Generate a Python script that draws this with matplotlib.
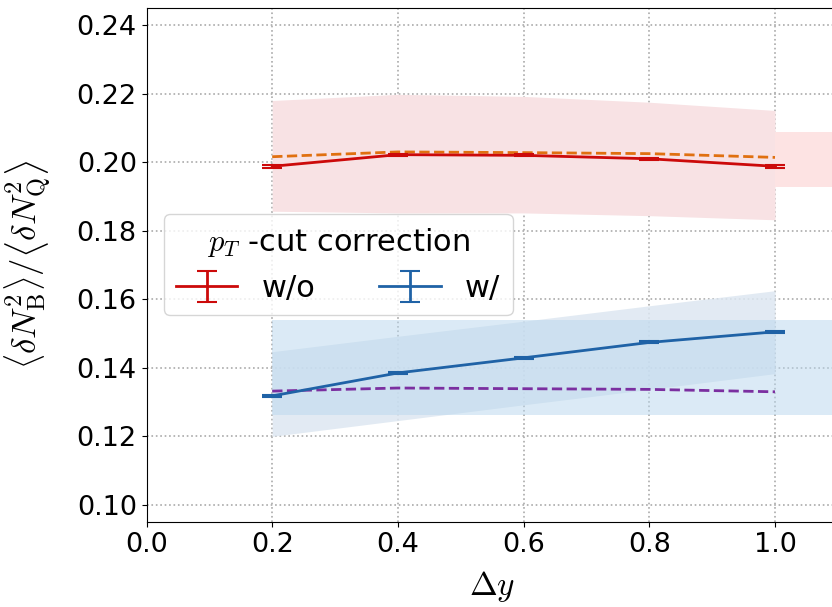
import matplotlib
matplotlib.use("Agg")
import matplotlib.pyplot as plt
import numpy as np

plt.rcParams['mathtext.fontset'] = 'cm'

# Data
dy = [0.2, 0.4, 0.6, 0.8, 1.0]
wo_vals = [0.1988, 0.2022, 0.2020, 0.2010, 0.1988]
wo_errs = [0.0004, 0.0003, 0.0003, 0.0003, 0.0004]
wo_ref = [0.2016, 0.2030, 0.2028, 0.2025, 0.2014]
wo_band_hi = [0.2180, 0.2198, 0.2192, 0.2175, 0.2151]
wo_band_lo = [0.1857, 0.1852, 0.1852, 0.1844, 0.1832]
wo_right_band = [0.1927, 0.2087]

w_vals = [0.1318, 0.1385, 0.1429, 0.1474, 0.1505]
w_errs = [0.0004, 0.0003, 0.0003, 0.0003, 0.0003]
w_ref = [0.1332, 0.1341, 0.1339, 0.1337, 0.1330]
w_band_hi = [0.1447, 0.1492, 0.1536, 0.1581, 0.1625]
w_band_lo = [0.1200, 0.1246, 0.1292, 0.1337, 0.1383]
w_rect_band = [0.1261, 0.1539]

xticks = [0.0, 0.2, 0.4, 0.6, 0.8, 1.0]
yticks = [0.10, 0.12, 0.14, 0.16, 0.18, 0.20, 0.22, 0.24]

fig = plt.figure(figsize=(8.32, 6.07), dpi=100)
ax = fig.add_axes([146.5/832, 1 - 522/607, (1.1*628.5)/832, (522-8)/607])

red = '#cc0a0a'
blue = '#1f62a6'
orange = '#e07010'
purple = '#7b2fa0'

# bands
ax.fill_between(dy, wo_band_lo, wo_band_hi, color='#f8e2e4', lw=0, zorder=1)
ax.fill_between([1.0, 1.2], [wo_right_band[0]]*2, [wo_right_band[1]]*2, color='#fde3e3', lw=0, zorder=1)
ax.fill_between(dy, w_band_lo, w_band_hi, color='#dde7f1', lw=0, alpha=0.85, zorder=1)
ax.fill_between([0.2, 1.2], [w_rect_band[0]]*2, [w_rect_band[1]]*2, color='#b9d7ee', lw=0, alpha=0.5, zorder=1)

# dashed reference lines
ax.plot(dy, wo_ref, ls='--', color=orange, lw=2, zorder=3)
ax.plot(dy, w_ref, ls='--', color=purple, lw=2, zorder=3)

# errorbar lines
ax.errorbar(dy, wo_vals, yerr=wo_errs, color=red, lw=2, capsize=7, capthick=1.5, zorder=4, label='w/o')
ax.errorbar(dy, w_vals, yerr=w_errs, color=blue, lw=2, capsize=7, capthick=1.5, zorder=4, label='w/')

ax.set_xlim(0, 1.1)
ax.set_ylim(0.095, 0.245)
ax.set_xticks(xticks)
ax.set_yticks(yticks)
ax.set_xticklabels([f'{v:.1f}' for v in xticks])
ax.set_yticklabels([f'{v:.2f}' for v in yticks])
ax.tick_params(labelsize=19.5)
ax.grid(True, ls=':', color='#aaaaaa', lw=1.2)
ax.set_axisbelow(True)

ax.set_xlabel(r'$\Delta y$', fontsize=24, labelpad=8)
ax.set_ylabel(r'$\left\langle\delta N_{\rm B}^2\right\rangle/\left\langle\delta N_{\rm Q}^2\right\rangle$',
              fontsize=25)
ax.yaxis.set_label_coords(-0.135, 0.5)

leg = ax.legend(loc='upper left', bbox_to_anchor=(0.025, 0.6), borderaxespad=0,
                ncol=2, fontsize=22, title=r'$p_T$ -cut correction', title_fontsize=22,
                columnspacing=2.1, handlelength=2.0, framealpha=0.8)

fig.savefig('out.png', dpi=100)
